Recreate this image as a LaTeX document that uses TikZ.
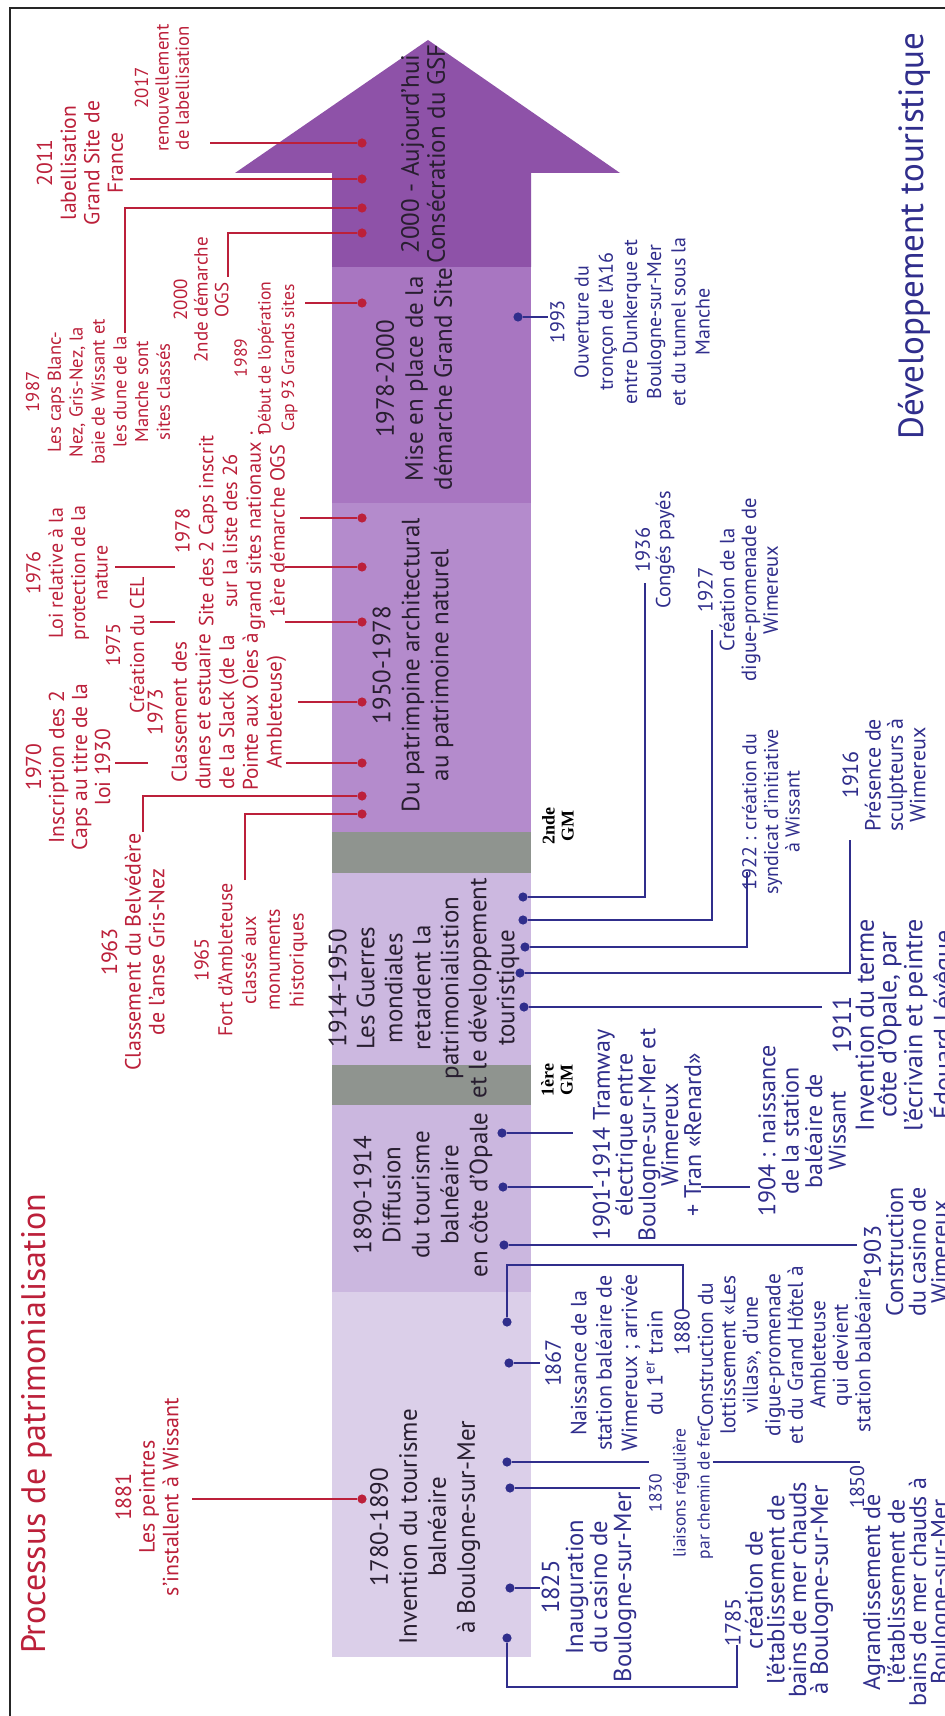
\documentclass[tikz,border=0pt]{standalone}
\usepackage{fontspec}
\setmainfont{PT Sans}
\newfontfamily\warfont{Liberation Serif}
\usetikzlibrary{calc}
\definecolor{patred}{RGB}{188,32,58}
\definecolor{tourblue}{RGB}{48,46,140}
\definecolor{phasetext}{RGB}{40,30,48}
\definecolor{phA}{RGB}{219,207,233}
\definecolor{phB}{RGB}{203,183,223}
\definecolor{phC}{RGB}{204,184,224}
\definecolor{phD}{RGB}{180,139,204}
\definecolor{phE}{RGB}{168,118,193}
\definecolor{phF}{RGB}{142,82,168}
\definecolor{warband}{RGB}{143,148,143}
\newcommand{\fs}[2]{\fontsize{#1}{#2}\selectfont}
\begin{document}
\begin{tikzpicture}[x=0.5pt, y=-0.5pt,
  redlab/.style={rotate=90, align=center, text=patred, inner sep=1pt, font=\fs{10.3}{11.6}},
  bluelab/.style={rotate=90, align=center, text=tourblue, inner sep=1pt, font=\fs{10.2}{11}},
  phasetxt/.style={rotate=90, align=center, text=phasetext, inner sep=0pt, font=\fs{12.5}{14.5}},
  warlab/.style={rotate=90, align=center, inner sep=0pt, font=\warfont\bfseries\fs{9}{9.5}},
  rdot/.style={circle, fill=patred, inner sep=0pt, minimum size=4.6pt},
  bdot/.style={circle, fill=tourblue, inner sep=0pt, minimum size=4.6pt},
  rline/.style={draw=patred, line width=0.7pt},
  bline/.style={draw=tourblue, line width=0.7pt},
  knock/.style={fill=white, inner sep=0pt},
]
\useasboundingbox (0,0) rectangle (945,1716);
\fill[white] (0,0) rectangle (945,1716);
\clip (0,0) rectangle (945,1716);

% ---- the timeline arrow, one band per period
\fill[phA] (332,1292) rectangle (531,1657);
\fill[phB] (332,1105) rectangle (531,1292);
\fill[warband] (332,1065) rectangle (531,1105);
\fill[phC] (332,873) rectangle (531,1065);
\fill[warband] (332,832) rectangle (531,873);
\fill[phD] (332,503) rectangle (531,832);
\fill[phE] (332,267) rectangle (531,503);
\fill[phF] (332,267) -- (332,173) -- (235,173) -- (428,40) -- (620,173)
  -- (531,173) -- (531,267) -- cycle;

% ---- period texts
\node[phasetxt] (p1) at (425,1527) {1780-1890\\Invention du tourisme\\balnéaire\\à Boulogne-sur-Mer};
\node[phasetxt] (p2) at (423,1195) {1890-1914\\Diffusion\\du tourisme\\balnéaire\\en côte d'Opale};
\node[phasetxt, font=\fs{12.5}{14}] (p3) at (424,988) {1914-1950\\Les Guerres\\mondiales\\retardent la\\patrimonialistion\\et le développement\\touristique};
\node[phasetxt] (p4) at (413,665) {1950-1978\\Du patrimpine architectural\\au patrimoine naturel};
\node[phasetxt] (p5) at (414,379) {1978-2000\\Mise en place de la\\démarche Grand Site};
\node[phasetxt, font=\fs{12.5}{13}] (p6) at (423,154) {2000 - Aujourd'hui\\Consécration du GSF};
\node[warlab] (gm1) at (557,1080) {1ère\\GM};
\node[warlab] (gm2) at (558,826) {2nde\\GM};

% ---- heritage milestones (left): dots and connectors
\node[rdot] (d2017) at (362,143) {};
\node[rdot] (d2011) at (362,179) {};
\node[rdot] (d1987) at (362,208) {};
\node[rdot] (d2000) at (362,233) {};
\node[rdot] (d1989) at (362,303) {};
\node[rdot] (d1978) at (362,518) {};
\node[rdot] (d1976) at (362,567) {};
\node[rdot] (d1975) at (362,622) {};
\node[rdot] (d1973) at (362,702) {};
\node[rdot] (d1970) at (362,763) {};
\node[rdot] (d1963) at (362,796) {};
\node[rdot] (d1965) at (362,814) {};
\node[rdot] (d1881) at (362,1499) {};

\coordinate (e2017) at (210,143);
\coordinate (e2011) at (130,179);
\coordinate (e1987) at (125,333);
\coordinate (e2000) at (228,277);
\coordinate (e1989) at (305,303);
\coordinate (e1978) at (300,518);
\coordinate (e1976) at (115,567);
\coordinate (e1975) at (150,622);
\coordinate (e1973) at (298,702);
\coordinate (e1970) at (115,763);
\coordinate (e1963) at (143,832);
\coordinate (e1965) at (245,880);
\coordinate (e1881) at (192,1499);

\draw[rline] (e2017) -- (d2017);
\draw[rline] (e2011) -- (d2011);
\draw[rline] (e1987) |- (d1987);
\draw[rline] (e2000) |- (d2000);
\draw[rline] (e1989) -- (d1989);
\draw[rline] (e1978) -- (d1978);
\draw[rline] (e1976) -- (d1976);
\draw[rline] (e1975) -- (d1975);
\draw[rline] (e1973) -- (d1973);
\draw[rline] (e1970) -- (d1970);
\draw[rline] (e1963) |- (d1963);
\draw[rline] (e1965) |- (d1965);
\draw[rline] (e1881) -- (d1881);

% ---- tourism milestones (right): dots and connectors
\node[bdot] (d1993) at (518,317) {};
\node[bdot] (d1936) at (523,897) {};
\node[bdot] (d1927) at (523,920) {};
\node[bdot] (d1922) at (525,947) {};
\node[bdot] (d1916) at (520,973) {};
\node[bdot] (d1911) at (524,1007) {};
\node[bdot] (d1901) at (502,1133) {};
\node[bdot] (d1904) at (503,1187) {};
\node[bdot] (d1903) at (504,1245) {};
\node[bdot] (d1880) at (507,1322) {};
\node[bdot] (d1867) at (509,1363) {};
\node[bdot] (d1850) at (507,1462) {};
\node[bdot] (d1830) at (510,1488) {};
\node[bdot] (d1825) at (510,1588) {};
\node[bdot] (d1785) at (507,1638) {};

\coordinate (e1993) at (548,317);
\coordinate (e1936) at (645,583);
\coordinate (e1927) at (712,630);
\coordinate (e1922) at (747,872);
\coordinate (e1916) at (850,840);
\coordinate (e1911) at (822,1007);
\coordinate (e1901) at (573,1133);
\coordinate (e1904) at (750,1187);
\coordinate (e1903) at (857,1245);
\coordinate (k1880) at (683,1265);
\coordinate (e1880) at (683,1310);
\coordinate (e1867) at (540,1363);
\coordinate (e1850) at (860,1462);
\coordinate (e1830) at (640,1488);
\coordinate (e1825) at (540,1588);
\coordinate (k1785) at (737,1687);
\coordinate (e1785) at (737,1645);

\draw[bline] (d1993) -- (e1993);
\draw[bline] (d1936) -| (e1936);
\draw[bline] (d1927) -| (e1927);
\draw[bline] (d1922) -| (e1922);
\draw[bline] (d1916) -| (e1916);
\draw[bline] (d1911) -- (e1911);
\draw[bline] (d1901) -- (e1901);
\draw[bline] (d1904) -- (e1904);
\draw[bline] (d1903) -- (e1903);
\draw[bline] (d1880) |- (k1880) -- (e1880);
\draw[bline] (d1867) -- (e1867);
\draw[bline] (d1850) -- (e1850);
\draw[bline] (d1830) -- (e1830);
\draw[bline] (d1825) -- (e1825);
\draw[bline] (d1785) |- (k1785) -- (e1785);

% ---- labels on a white ground, masking the connectors behind them
\node[redlab, knock, font=\fs{10.2}{11.9}] (l1978) at (230,531) {1978\\Site des 2 Caps inscrit\\sur la liste des 26\\grand sites nationaux ;\\1ère démarche OGS};
\node[redlab, knock, font=\fs{10.6}{11.9}] (l1973) at (217,712) {1973\\Classement des\\dunes et estuaire\\de la Slack (de la\\Pointe aux Oies à\\Ambleteuse)};
\node[bluelab, knock, font=\fs{12}{11.4}] (b1901) at (647,1135) {1901-1914 Tramway\\électrique entre\\Boulogne-sur-Mer et\\Wimereux\\+ Tran «Renard»};
\node[bluelab, knock, font=\fs{8.8}{12}] (b1830) at (681,1493) {1830\\liaisons régulière\\par chemin de fer};

% ---- heritage labels
\node[redlab, font=\fs{9.4}{10.2}] (l2017) at (162,88) {2017\\renouvellement\\de labellisation};
\node[redlab, font=\fs{10.8}{11.8}] (l2011) at (80,163) {2011\\labellisation\\Grand Site de\\France};
\node[redlab, font=\fs{9.3}{10.9}] (l1987) at (98,392) {1987\\Les caps Blanc-\\Nez, Gris-Nez, la\\baie de Wissant et\\les dune de la\\Manche sont\\sites classés};
\node[redlab, font=\fs{9.5}{10.3}] (l2000) at (201,300) {2000\\2nde démarche\\OGS};
\node[redlab, font=\fs{8.8}{11.8}] (l1989) at (266,358) {1989\\Début de l'opération\\Cap 93 Grands sites};
\node[redlab, font=\fs{10}{11.2}] (l1976) at (67,573) {1976\\Loi relative à la\\protection de la\\nature};
\node[redlab, font=\fs{10}{12}] (l1975) at (125,645) {1975\\Création du CEL};
\node[redlab, font=\fs{10.8}{11.5}] (l1970) at (68,767) {1970\\Inscription des 2\\Caps au titre de la\\loi 1930};
\node[redlab, font=\fs{11}{11.8}] (l1963) at (133,952) {1963\\Classement du Belvédère\\de l'anse Gris-Nez};
\node[redlab, font=\fs{10}{11.9}] (l1965) at (251,960) {1965\\Fort d'Ambleteuse\\classé aux\\monuments\\historiques};
\node[redlab, font=\fs{11}{11.8}] (l1881) at (147,1497) {1881\\Les peintres\\s'installent à Wissant};

% ---- tourism labels
\node[bluelab, font=\fs{10}{12.1}] (b1993) at (630,322) {1993\\Ouverture du\\tronçon de l'A16\\entre Dunkerque et\\Boulogne-sur-Mer\\et du tunnel sous la\\Manche};
\node[bluelab, font=\fs{10.2}{10.2}] (b1936) at (655,550) {1936\\Congés payés};
\node[bluelab, font=\fs{10.3}{10.9}] (b1927) at (738,590) {1927\\Création de la\\digue-promenade de\\Wimereux};
\node[bluelab, font=\fs{10}{10.8}] (b1922) at (771,812) {1922 : création du\\syndicat d'initiative\\à Wissant};
\node[bluelab, font=\fs{11}{11.2}] (b1916) at (884,775) {1916\\Présence de\\sculpteurs à\\Wimereux};
\node[bluelab, font=\fs{13}{11.3}] (b1911) at (895,1025) {1911\\Invention du terme\\côte d'Opale, par\\l'écrivain et peintre\\Édouard Lévêque};
\node[bluelab, font=\fs{12}{11.7}] (b1904) at (802,1131) {1904 : naissance\\de la station\\baléaire de\\Wissant};
\node[bluelab, font=\fs{12}{11.2}] (b1903) at (906,1252) {1903\\Construction\\du casino de\\Wimereux};
\node[bluelab, font=\fs{10.7}{11.25}] (b1880y) at (682,1332) {1880};
\node[bluelab, font=\fs{10.7}{11.25}] (b1880) at (784,1355) {Construction du\\lottissement «Les\\villas», d'une\\digue-promenade\\et du Grand Hôtel à\\Ambleteuse\\qui devient\\station balbéaire};
\node[bluelab, font=\fs{11}{12.7}] (b1867) at (604,1363) {1867\\Naissance de la\\station baléaire de\\Wimereux ; arrivée\\du 1\textsuperscript{er} train};
\node[bluelab, font=\fs{10}{11}] (b1850y) at (857,1487) {1850};
\node[bluelab, font=\fs{12}{10.8}] (b1850) at (908,1592) {Agrandissement de\\l'établissement de\\bains de mer chauds à\\Boulogne-sur-Mer};
\node[bluelab, font=\fs{12.3}{12}] (b1825) at (589,1587) {1825\\Inauguration\\du casino de\\Boulogne-sur-Mer};
\node[bluelab, font=\fs{11}{11}] (b1785y) at (733,1622) {1785};
\node[bluelab, font=\fs{12.3}{10.9}] (b1785) at (789,1590) {création de\\l'établissement de\\bains de mer chauds\\à Boulogne-sur-Mer};

% ---- headings
\node[rotate=90, text=patred, inner sep=0pt, font=\fs{17}{20}] (ttlpat) at (37,1424) {Processus de patrimonialisation};
\node[rotate=90, text=tourblue, inner sep=0pt, font=\fs{17.5}{20}] (ttltour) at (914,236) {Développement touristique};

% ---- frame
\draw[line width=1pt, black!85] (10,1720) -- (10,8) -- (950,8);
\end{tikzpicture}
\end{document}
